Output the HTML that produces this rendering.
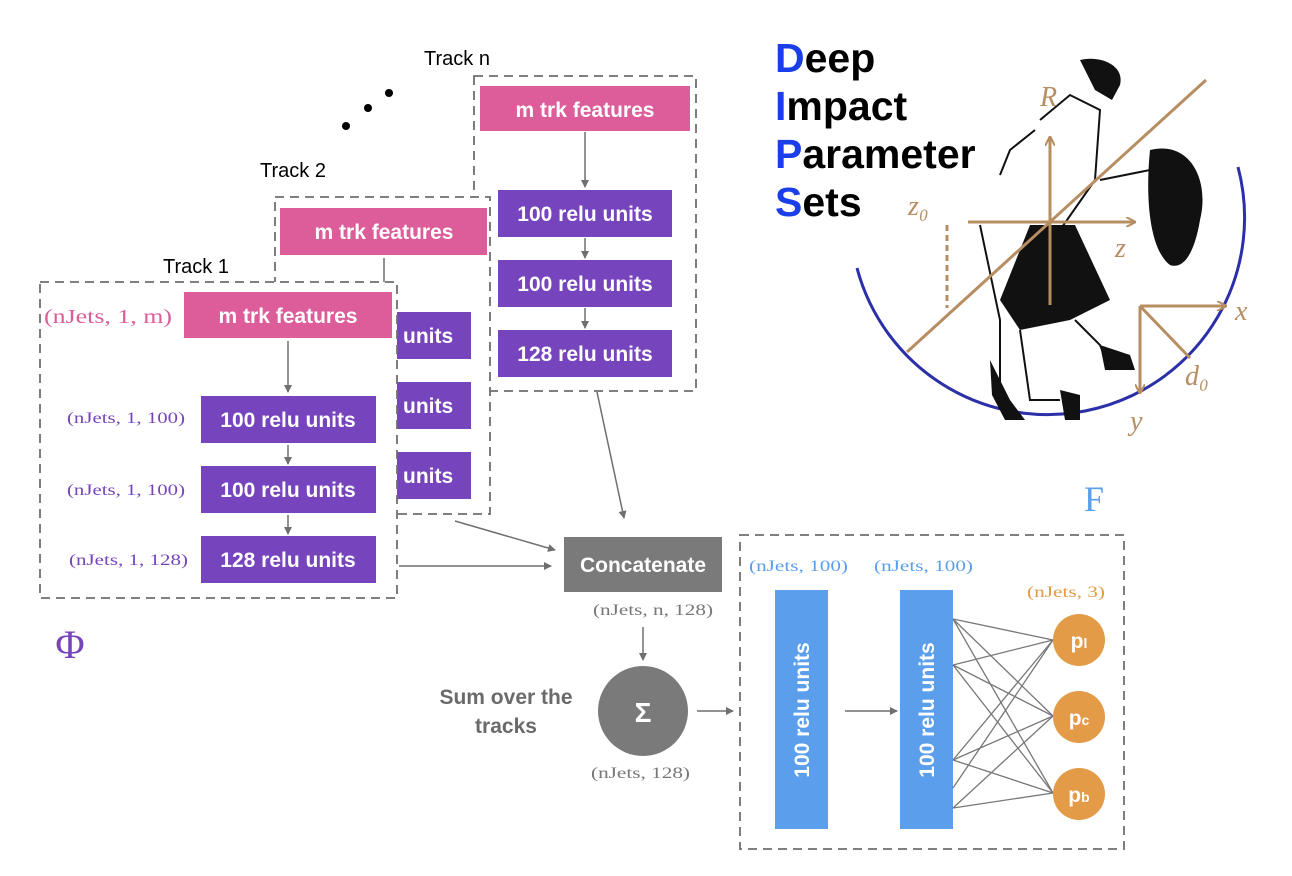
<!DOCTYPE html>
<html><head><meta charset="utf-8"><style>
html,body{margin:0;padding:0;background:#fff;}
svg{display:block;}
.b{font-family:"Liberation Sans",sans-serif;font-weight:bold;fill:#fff;}
.m{font-family:"Liberation Serif",serif;}
</style></head><body>
<svg width="1292" height="876" viewBox="0 0 1292 876" xmlns="http://www.w3.org/2000/svg">
<defs>
<marker id="a" markerWidth="8" markerHeight="8" refX="7" refY="4" orient="auto" markerUnits="userSpaceOnUse"><path d="M0,0 L8,4 L0,8 z" fill="#6f6f6f"/></marker>
<marker id="br" markerWidth="10" markerHeight="10" refX="9" refY="5" orient="auto" markerUnits="userSpaceOnUse"><path d="M0,0 L10,5 L0,10" fill="none" stroke="#b78d62" stroke-width="2"/></marker>
</defs>
<rect x="474" y="76" width="222" height="315" fill="#fff" stroke="#6f6f6f" stroke-width="1.8" stroke-dasharray="9,6"/>
<rect x="480" y="86" width="210" height="45" fill="#dc5d9a"/>
<text x="585" y="117" class="b" font-size="21" text-anchor="middle">m trk features</text>
<line x1="585" y1="132" x2="585" y2="187" stroke="#6f6f6f" stroke-width="1.5" marker-end="url(#a)"/>
<rect x="498" y="190" width="174" height="47" fill="#7644bd"/>
<text x="585" y="221" class="b" font-size="21" text-anchor="middle">100 relu units</text>
<line x1="585" y1="238" x2="585" y2="258" stroke="#6f6f6f" stroke-width="1.5" marker-end="url(#a)"/>
<rect x="498" y="260" width="174" height="47" fill="#7644bd"/>
<text x="585" y="291" class="b" font-size="21" text-anchor="middle">100 relu units</text>
<line x1="585" y1="308" x2="585" y2="328" stroke="#6f6f6f" stroke-width="1.5" marker-end="url(#a)"/>
<rect x="498" y="330" width="174" height="47" fill="#7644bd"/>
<text x="585" y="361" class="b" font-size="21" text-anchor="middle">128 relu units</text>
<text x="457" y="65" font-family="Liberation Sans,sans-serif" font-size="20" text-anchor="middle">Track n</text>
<circle cx="346" cy="126" r="4" fill="#000"/><circle cx="368" cy="108" r="4" fill="#000"/><circle cx="389" cy="93" r="4" fill="#000"/>
<rect x="275" y="197" width="215" height="317" fill="#fff" stroke="#6f6f6f" stroke-width="1.8" stroke-dasharray="9,6"/>
<rect x="280" y="208" width="207" height="47" fill="#dc5d9a"/>
<text x="384" y="239" class="b" font-size="21" text-anchor="middle">m trk features</text>
<line x1="384" y1="258" x2="384" y2="290" stroke="#6f6f6f" stroke-width="1.5"/>
<rect x="300" y="312" width="171" height="47" fill="#7644bd"/>
<rect x="300" y="382" width="171" height="47" fill="#7644bd"/>
<rect x="300" y="452" width="171" height="47" fill="#7644bd"/>
<text x="403" y="343" class="b" font-size="21">units</text>
<text x="403" y="413" class="b" font-size="21">units</text>
<text x="403" y="483" class="b" font-size="21">units</text>
<text x="293" y="177" font-family="Liberation Sans,sans-serif" font-size="20" text-anchor="middle">Track 2</text>
<rect x="40" y="282" width="357" height="316" fill="#fff" stroke="#6f6f6f" stroke-width="1.8" stroke-dasharray="9,6"/>
<text x="196" y="273" font-family="Liberation Sans,sans-serif" font-size="20" text-anchor="middle">Track 1</text>
<rect x="184" y="292" width="208" height="46" fill="#dc5d9a"/>
<text x="288" y="323" class="b" font-size="21" text-anchor="middle">m trk features</text>
<text x="44" y="323" class="m" font-size="20" fill="#dc5d9a" textLength="128" lengthAdjust="spacingAndGlyphs">(nJets, 1, m)</text>
<line x1="288" y1="341" x2="288" y2="392" stroke="#6f6f6f" stroke-width="1.5" marker-end="url(#a)"/>
<rect x="201" y="396" width="175" height="47" fill="#7644bd"/>
<text x="288" y="427" class="b" font-size="21" text-anchor="middle">100 relu units</text>
<line x1="288" y1="445" x2="288" y2="464" stroke="#6f6f6f" stroke-width="1.5" marker-end="url(#a)"/>
<rect x="201" y="466" width="175" height="47" fill="#7644bd"/>
<text x="288" y="497" class="b" font-size="21" text-anchor="middle">100 relu units</text>
<line x1="288" y1="515" x2="288" y2="534" stroke="#6f6f6f" stroke-width="1.5" marker-end="url(#a)"/>
<rect x="201" y="536" width="175" height="47" fill="#7644bd"/>
<text x="288" y="567" class="b" font-size="21" text-anchor="middle">128 relu units</text>
<g class="m" font-size="16" fill="#7644bd">
<text x="67" y="423" textLength="118" lengthAdjust="spacingAndGlyphs">(nJets, 1, 100)</text>
<text x="67" y="495" textLength="118" lengthAdjust="spacingAndGlyphs">(nJets, 1, 100)</text>
<text x="69" y="565" textLength="119" lengthAdjust="spacingAndGlyphs">(nJets, 1, 128)</text>
</g>
<text x="70" y="658" class="m" font-size="40" fill="#7644bd" text-anchor="middle">Φ</text>
<g stroke="#6f6f6f" stroke-width="1.5" marker-end="url(#a)">
<line x1="597" y1="392" x2="624" y2="518"/>
<line x1="455" y1="521" x2="555" y2="550"/>
<line x1="399" y1="566" x2="551" y2="566"/>
<line x1="643" y1="627" x2="643" y2="660"/>
<line x1="697" y1="711" x2="733" y2="711"/>
<line x1="845" y1="711" x2="897" y2="711"/>
</g>
<rect x="564" y="537" width="158" height="55" fill="#7a7a7a"/>
<text x="643" y="572" class="b" font-size="21" text-anchor="middle">Concatenate</text>
<text x="593" y="615" class="m" font-size="16" fill="#777" textLength="120" lengthAdjust="spacingAndGlyphs">(nJets, n, 128)</text>
<circle cx="643" cy="711" r="45" fill="#7a7a7a"/>
<text x="643" y="722" class="b" font-size="28" text-anchor="middle">Σ</text>
<text x="506" y="704" font-family="Liberation Sans,sans-serif" font-weight="bold" font-size="21" fill="#6a6a6a" text-anchor="middle">Sum over the</text>
<text x="506" y="733" font-family="Liberation Sans,sans-serif" font-weight="bold" font-size="21" fill="#6a6a6a" text-anchor="middle">tracks</text>
<text x="591" y="778" class="m" font-size="16" fill="#777" textLength="99" lengthAdjust="spacingAndGlyphs">(nJets, 128)</text>
<rect x="740" y="535" width="384" height="314" fill="none" stroke="#6f6f6f" stroke-width="1.8" stroke-dasharray="9,6"/>
<text x="1094" y="511" class="m" font-size="36" fill="#5b9eec" text-anchor="middle">F</text>
<text x="749" y="571" class="m" font-size="16" fill="#5b9eec" textLength="99" lengthAdjust="spacingAndGlyphs">(nJets, 100)</text>
<text x="874" y="571" class="m" font-size="16" fill="#5b9eec" textLength="99" lengthAdjust="spacingAndGlyphs">(nJets, 100)</text>
<text x="1027" y="597" class="m" font-size="16" fill="#e39b47" textLength="78" lengthAdjust="spacingAndGlyphs">(nJets, 3)</text>
<rect x="775" y="590" width="53" height="239" fill="#5b9eec"/>
<rect x="900" y="590" width="53" height="239" fill="#5b9eec"/>
<text class="b" font-size="21" text-anchor="middle" transform="translate(809,710) rotate(-90)">100 relu units</text>
<text class="b" font-size="21" text-anchor="middle" transform="translate(934,710) rotate(-90)">100 relu units</text>
<g stroke="#777" stroke-width="1.3">
<line x1="953" y1="619" x2="1053" y2="640"/><line x1="953" y1="619" x2="1053" y2="716"/><line x1="953" y1="619" x2="1053" y2="793"/>
<line x1="953" y1="665" x2="1053" y2="640"/><line x1="953" y1="665" x2="1053" y2="716"/><line x1="953" y1="665" x2="1053" y2="793"/>
<line x1="953" y1="760" x2="1053" y2="640"/><line x1="953" y1="760" x2="1053" y2="716"/><line x1="953" y1="760" x2="1053" y2="793"/>
<line x1="953" y1="788" x2="1053" y2="640"/><line x1="953" y1="808" x2="1053" y2="716"/><line x1="953" y1="808" x2="1053" y2="793"/>
</g>
<circle cx="1079" cy="640" r="26" fill="#e39b47"/>
<circle cx="1079" cy="717" r="26" fill="#e39b47"/>
<circle cx="1079" cy="794" r="26" fill="#e39b47"/>
<text x="1079" y="648" class="b" font-size="21" text-anchor="middle">p<tspan font-size="14">l</tspan></text>
<text x="1079" y="725" class="b" font-size="21" text-anchor="middle">p<tspan font-size="14">c</tspan></text>
<text x="1079" y="802" class="b" font-size="21" text-anchor="middle">p<tspan font-size="14">b</tspan></text>
<g font-family="Liberation Sans,sans-serif" font-weight="bold" font-size="41" fill="#000">
<text x="775" y="72"><tspan fill="#1a3ee8">D</tspan>eep</text>
<text x="775" y="120"><tspan fill="#1a3ee8">I</tspan>mpact</text>
<text x="775" y="168"><tspan fill="#1a3ee8">P</tspan>arameter</text>
<text x="775" y="216"><tspan fill="#1a3ee8">S</tspan>ets</text>
</g>
<path d="M857,268 A197,197 0 0 0 1238,167" fill="none" stroke="#2b2fa8" stroke-width="3"/>
<g fill="#111">
<path d="M1080,60 C1100,55 1125,65 1120,85 L1112,100 L1095,90 Z"/>
<path d="M1150,150 C1190,140 1210,180 1200,220 C1195,250 1185,270 1170,265 C1150,250 1145,200 1150,150 Z"/>
<path d="M1030,225 L1075,225 L1110,300 L1070,320 L1020,330 L1000,300 Z"/>
<path d="M990,360 L1010,400 L1025,420 L1005,420 L992,395 Z"/>
<path d="M1060,390 L1080,395 L1080,420 L1065,420 Z"/>
<path d="M1100,345 L1130,355 L1135,370 L1105,370 Z"/>
</g>
<g fill="none" stroke="#111" stroke-width="2">
<path d="M1040,120 L1070,95 L1100,110 L1095,180 L1060,230"/>
<path d="M1000,175 L1010,150 L1035,130"/>
<path d="M980,225 L1000,320 L1000,395"/>
<path d="M1020,330 L1030,400 L1060,400"/>
<path d="M1100,180 L1150,170"/>
<path d="M1075,320 L1100,345 L1110,370"/>
</g>
<g stroke="#b78d62" stroke-width="3" fill="none">
<line x1="907" y1="352" x2="1206" y2="80"/>
<line x1="1050" y1="305" x2="1050" y2="137" marker-end="url(#br)"/>
<line x1="968" y1="222" x2="1135" y2="222" marker-end="url(#br)"/>
<line x1="1140" y1="306" x2="1226" y2="306" marker-end="url(#br)"/>
<line x1="1140" y1="306" x2="1140" y2="393" marker-end="url(#br)"/>
<line x1="1140" y1="306" x2="1190" y2="358"/>
<line x1="947" y1="225" x2="947" y2="308" stroke-dasharray="6,4"/>
</g>
<g font-family="Liberation Serif,serif" font-style="italic" font-size="28" fill="#b78d62">
<text x="1040" y="106">R</text>
<text x="908" y="215">z₀</text>
<text x="1115" y="257">z</text>
<text x="1235" y="320">x</text>
<text x="1185" y="385">d₀</text>
<text x="1130" y="430">y</text>
</g>
</svg>
</body></html>
